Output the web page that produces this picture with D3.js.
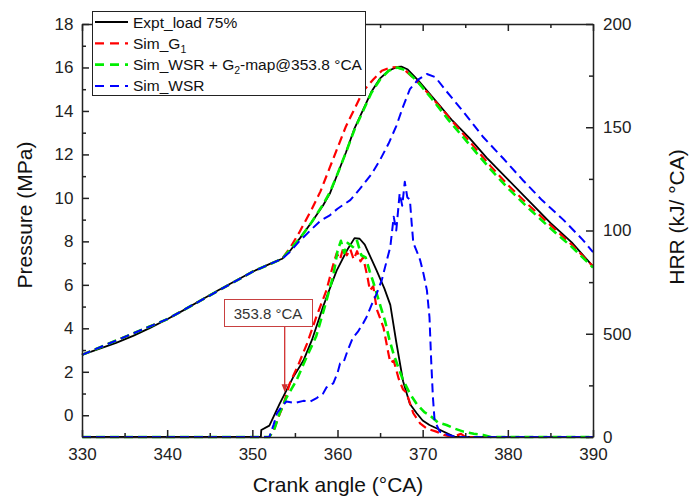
<!DOCTYPE html>
<html>
<head>
<meta charset="utf-8">
<script src="https://cdn.jsdelivr.net/npm/d3@7"></script>
<style>
  body { margin: 0; background: #fff; }
  svg { font-family: "Liberation Sans", Arial, sans-serif; }
</style>
</head>
<body>
<script>
// pressure (MPa) vs crank angle, then HRR (kJ/°CA) vs crank angle
const pExpt = [[330,2.78],[332,3.05],[334,3.33],[336,3.65],[338,4.02],[340,4.42],[342,4.85],[344,5.3],[346,5.75],[348,6.18],[350,6.6],[352,6.95],[353.5,7.2],[354.5,7.6],[355.6,8.15],[357,8.9],[358.3,9.65],[359.1,10.2],[360,11.1],[361,12.1],[362,13.2],[363,14.05],[364,14.9],[365,15.5],[366,15.85],[367,16.03],[367.5,16.04],[368.2,15.92],[369.5,15.4],[370.8,14.8],[372,14.25],[373.5,13.55],[375.5,12.75],[377.5,11.85],[380,10.85],[382.5,9.85],[385,8.85],[387.5,7.95],[390,6.85]];
const pSimG1 = [[330,2.78],[340,4.42],[350,6.6],[353.5,7.2],[354.5,7.75],[355.5,8.4],[357,9.5],[358,10.3],[359.1,11.4],[360,12.3],[361,13.3],[362,14.1],[363,14.9],[364.2,15.45],[365.2,15.85],[366.2,16.0],[367,16.02],[368,15.85],[369.5,15.3],[371,14.65],[373,13.75],[375.5,12.6],[378,11.45],[380,10.6],[382.5,9.65],[385,8.75],[387.5,7.85],[390,6.85]];
const pSimG2 = [[330,2.78],[340,4.42],[350,6.6],[353.5,7.2],[354.5,7.65],[355.6,8.15],[357,8.9],[358.3,9.7],[359.1,10.25],[360,11.1],[361,12.1],[362,13.15],[363,14.0],[364,14.85],[365,15.45],[366,15.85],[367,16.0],[368,15.88],[369.5,15.3],[371,14.6],[373,13.6],[375.5,12.45],[378,11.3],[380,10.45],[382.5,9.5],[385,8.6],[387.5,7.75],[390,6.8]];
const pSimWSR = [[330,2.78],[340,4.42],[350,6.6],[353.5,7.2],[354.5,7.55],[355.5,8.0],[356.8,8.5],[358,8.95],[359.1,9.2],[360,9.5],[361.5,9.9],[362.6,10.4],[364,11.1],[365,11.75],[366,12.5],[366.9,13.3],[367.7,14.2],[368.5,15.0],[369.5,15.45],[370.5,15.7],[371.5,15.55],[372.8,14.9],[374.5,14.1],[377.1,12.8],[379.5,11.8],[381.8,10.8],[384,9.9],[386.5,9.0],[388.8,8.07],[390,7.5]];

const hExpt = [[330,0],[351,0],[351.05,3.4],[352,5.5],[353.2,16],[354.8,29],[356,37],[357,47],[358.3,63],[359.2,73],[359.9,80.6],[361.1,90.3],[362,96.3],[362.6,96],[363.2,93.2],[364,86],[364.6,80.6],[365.5,72],[366.2,64],[366.9,46],[367.7,27],[368.5,16],[369.3,11.5],[370,8],[370.8,5.8],[372,3.5],[373,1.5],[373.8,0],[390,0]];
const hSimG1 = [[330,0],[352,0],[352.5,3],[353,9],[353.6,15],[354.4,26],[355.4,35],[356.4,45],[357.5,58],[358.7,71],[359.4,82],[359.9,89],[360.3,86],[360.7,92],[361.1,88],[361.5,91],[361.9,86],[362.3,90],[362.7,85],[363.0,87],[363.5,78],[363.8,71],[364.2,73],[364.6,62],[365.4,53],[366.0,40],[366.2,36],[366.6,37],[367.2,28],[367.7,23],[368.1,21.5],[368.9,11.5],[369.7,6.6],[370.5,4],[371.6,2.6],[372.5,1],[373.5,0],[374.5,1.5],[375,0],[390,0]];
const hSimG2 = [[330,0],[352,0],[352.6,4],[353.2,11.5],[354,19],[355.2,27.6],[356.3,38],[357.5,48.8],[358.5,63],[359.5,78],[360,90],[360.4,95],[360.8,89],[361.2,94],[361.8,92],[362.3,95],[362.8,88],[363.3,87],[363.8,80],[364.2,75],[365,64],[365.6,56],[366.1,47],[366.6,40],[367.2,33],[367.7,27.6],[368.5,21],[369.3,16],[370.2,12],[370.8,10.6],[371.8,7],[372.8,5.8],[373.8,4],[374.8,2.6],[376,1.6],[377.1,1],[378,0],[390,0]];
const hSimWSR = [[330,0],[352,0],[352.5,6],[352.9,11.6],[353.5,15],[354,17.2],[355,16.5],[356,17.5],[356.8,17.2],[357.6,19],[358.3,21],[358.7,24],[359.5,26],[360,31],[360.3,35.6],[360.7,36],[361.2,42],[361.8,48],[362.4,51],[363,55],[363.4,58],[364,64],[364.6,69.4],[365.2,76],[365.8,85.7],[366.2,92],[366.6,106.7],[366.9,100],[367.3,118],[367.6,112],[367.9,123.6],[368.2,116],[368.5,115],[368.7,104],[368.9,94],[369.3,90],[369.7,85.7],[370.1,79],[370.5,71],[370.8,58],[371.0,37],[371.2,19.5],[371.4,8],[372,2.6],[373,1],[374,0],[390,0]];

const xTicks = [330, 340, 350, 360, 370, 380, 390];
const xMinor = [335, 345, 355, 365, 375, 385];
const pTicks = [0, 2, 4, 6, 8, 10, 12, 14, 16, 18];
const pMinor = [1, 3, 5, 7, 9, 11, 13, 15, 17];
const hTicks = [0, 50, 100, 150, 200];
const hTickLabels = ["0", "500", "100", "150", "200"];
const hMinor = [25, 75, 125, 175];

const SERIES = [
  { name: "Expt_load 75%", p: pExpt, h: hExpt, color: "#000000", dash: null, w: 1.8 },
  { name: "Sim_G", sub: "1", p: pSimG1, h: hSimG1, color: "#ff0000", dash: "9,5", w: 2.2 },
  { name: "Sim_WSR + G", sub: "2", rest: "-map@353.8 °CA", p: pSimG2, h: hSimG2, color: "#00ee00", dash: "9,5", w: 2.6 },
  { name: "Sim_WSR", p: pSimWSR, h: hSimWSR, color: "#0000ff", dash: "9,5", w: 2 },
];

const W = 689, H = 498;
const L = 82, R = 593, T = 24, B = 437;

const x = d3.scaleLinear().domain([330, 390]).range([L, R]);
const yP = d3.scaleLinear().domain([-1, 18]).range([B, T]);
const yH = d3.scaleLinear().domain([0, 200]).range([B, T]);

const svg = d3.select("body").append("svg").attr("width", W).attr("height", H);

// ── Lines ────────────────────────────────────────────────────────────
const linesG = svg.append("g");
SERIES.forEach(s => {
  [[s.p, yP], [s.h, yH]].forEach(([data, yy]) => {
    linesG.append("path")
      .attr("fill", "none")
      .attr("stroke", s.color)
      .attr("stroke-width", s.w)
      .attr("stroke-dasharray", s.dash)
      .attr("stroke-linejoin", "round")
      .attr("d", d3.line().x(d => x(d[0])).y(d => yy(d[1]))(data));
  });
});

// ── Axes ─────────────────────────────────────────────────────────────
function styleAxis(g) {
  g.selectAll("path, line").attr("stroke", "#222").attr("stroke-width", 1.5);
  g.selectAll("text").attr("font-size", 17).attr("fill", "#222")
    .attr("font-family", '"Liberation Sans", Arial, sans-serif');
}
function addAxis(axisFn, scale, major, minor, tx, ty, fmt, pad) {
  const g = svg.append("g").attr("transform", `translate(${tx},${ty})`);
  g.call(axisFn(scale).tickValues(major).tickSizeInner(-7).tickSizeOuter(0)
    .tickPadding(pad).tickFormat(fmt));
  g.append("g").call(axisFn(scale).tickValues(minor).tickSizeInner(-4).tickSizeOuter(0).tickFormat(""))
    .select(".domain").remove();
  styleAxis(g);
  return g;
}
addAxis(d3.axisBottom, x, xTicks, xMinor, 0, B, d3.format("d"), 10.5);
addAxis(d3.axisTop, x, xTicks, xMinor, 0, T, () => "", 8);
addAxis(d3.axisLeft, yP, pTicks, pMinor, L, 0, d3.format("d"), 8.5);
addAxis(d3.axisRight, yH, hTicks, hMinor, R, 0, (d, i) => hTickLabels[i], 10);

// axis titles
svg.append("text").attr("x", 338).attr("y", 492).attr("text-anchor", "middle")
  .attr("font-size", 21).attr("fill", "#111").text("Crank angle (°CA)");
svg.append("text").attr("transform", "translate(32,215) rotate(-90)").attr("text-anchor", "middle")
  .attr("font-size", 21).attr("fill", "#111").text("Pressure (MPa)");
svg.append("text").attr("transform", "translate(684,217) rotate(-90)").attr("text-anchor", "middle")
  .attr("font-size", 21).attr("fill", "#111").text("HRR (kJ/ °CA)");

// ── Legend ───────────────────────────────────────────────────────────
const lg = svg.append("g");
lg.append("rect").attr("x", 92.5).attr("y", 11.5).attr("width", 273).attr("height", 84)
  .attr("fill", "#fff").attr("stroke", "#222").attr("stroke-width", 1);
SERIES.forEach((s, i) => {
  const cy = 22 + i * 21.3;
  lg.append("line").attr("x1", 95).attr("x2", 128).attr("y1", cy).attr("y2", cy)
    .attr("stroke", s.color).attr("stroke-width", s.w)
    .attr("stroke-dasharray", s.dash ? "9,6" : null);
  const t = lg.append("text").attr("x", 133).attr("y", cy + 5.5)
    .attr("font-size", 15.5).attr("fill", "#111");
  t.append("tspan").text(s.name);
  if (s.sub) t.append("tspan").attr("font-size", 10.5).attr("dy", 4).text(s.sub);
  if (s.rest) t.append("tspan").attr("dy", -4).text(s.rest);
});

// ── Annotation ───────────────────────────────────────────────────────
const ax = x(353.8);
svg.append("defs").append("marker").attr("id", "arr")
  .attr("viewBox", "0 0 10 10").attr("refX", 9).attr("refY", 5)
  .attr("markerWidth", 6).attr("markerHeight", 6).attr("orient", "auto")
  .append("path").attr("d", "M0,1 L10,5 L0,9 Z").attr("fill", "#d03030");
svg.append("line").attr("x1", ax).attr("x2", ax).attr("y1", 327).attr("y2", yP(1.1))
  .attr("stroke", "#d03030").attr("stroke-width", 1.3).attr("marker-end", "url(#arr)");
svg.append("rect").attr("x", 224.5).attr("y", 299.5).attr("width", 88).attr("height", 27)
  .attr("fill", "#fff").attr("stroke", "#c84040").attr("stroke-width", 1);
svg.append("text").attr("x", 268).attr("y", 318.5).attr("text-anchor", "middle")
  .attr("font-size", 15).attr("fill", "#333").text("353.8  °CA");
</script>
</body>
</html>
